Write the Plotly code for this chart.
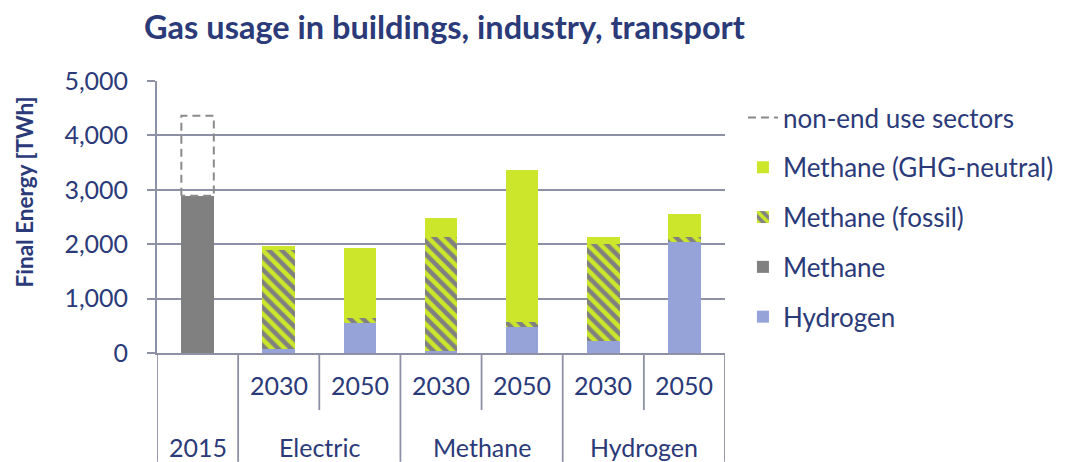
import plotly.graph_objects as go
import numpy as np

# ---- data ----
scenarios = ["", "Electric", "Electric", "Methane", "Methane", "Hydrogen", "Hydrogen"]
years = ["2015", "2030", "2050", "2030", "2050", "2030", "2050"]
hydrogen = [0, 68, 557, 37, 478, 220, 2046]
methane = [2890, 0, 0, 0, 0, 0, 0]
methane_fossil = [0, 1825, 86, 2101, 98, 1780, 81]
methane_ghg = [0, 74, 1287, 349, 2788, 140, 423]
non_end_use = [1470, 0, 0, 0, 0, 0, 0]
y_ticks = [0, 1000, 2000, 3000, 4000, 5000]

NAVY = "#2B3A78"
GRID = "#8E90A6"
GREEN = "#CBE62B"
GREY = "#808080"
BLUE = "#95A3D8"
FONT = "Lato"
BAR_W = 0.4
LBL = 25

pos = list(range(len(years)))

fig = go.Figure()
fig.add_bar(x=pos, y=hydrogen, name="Hydrogen", width=BAR_W,
            marker=dict(color=BLUE, line=dict(width=0)),
            legendgroup="h", legendrank=5)
fig.add_bar(x=pos, y=methane, name="Methane", width=BAR_W,
            marker=dict(color=GREY, line=dict(width=0)),
            legendgroup="m", legendrank=4)
fig.add_bar(x=pos, y=methane_fossil, name="Methane (fossil)", width=BAR_W,
            marker=dict(color=GREY, line=dict(width=0),
                        pattern=dict(shape="\\", fgcolor=GREEN, bgcolor=GREY,
                                     size=9, solidity=0.5, fillmode="replace")),
            legendgroup="f", legendrank=3)
fig.add_bar(x=pos, y=methane_ghg, name="Methane (GHG-neutral)", width=BAR_W,
            marker=dict(color=GREEN, line=dict(width=0)),
            legendgroup="g", legendrank=2)

# non-end use sectors: dashed outline stacked on top of the 2015 bar
base = np.array(hydrogen) + np.array(methane) + np.array(methane_fossil) + np.array(methane_ghg)
i = 0
x0, x1 = pos[i] - BAR_W / 2, pos[i] + BAR_W / 2
b, t = base[i], base[i] + non_end_use[i]
fig.add_scatter(x=[x0, x0, x1, x1, x0], y=[b, t, t, b, b], mode="lines",
                name="non-end use sectors",
                line=dict(color="#8A8A8A", width=2, dash="8px,5px"),
                legendgroup="n", legendrank=1, hoverinfo="skip")

# category axis: separators and labels
bottom_full = -0.40
bottom_part = -0.21
shapes = []
n = len(pos)
for k in range(n + 1):
    xb = k - 0.5
    if k == 0 or k == n:
        full = True
    else:
        full = scenarios[k - 1] != scenarios[k]
    shapes.append(dict(type="line", xref="x", yref="paper", x0=xb, x1=xb,
                       y0=0, y1=bottom_full if full else bottom_part,
                       line=dict(color=GRID, width=1.8)))
fig.update_layout(shapes=shapes)

annotations = []
for k in pos:
    yrow = -0.118 if scenarios[k] else -0.3456
    annotations.append(dict(x=k, y=yrow, xref="x", yref="paper", text=years[k],
                            showarrow=False, font=dict(size=LBL, color=NAVY, family=FONT),
                            yanchor="middle"))
groups = []
for k in pos:
    if scenarios[k] and scenarios[k] not in [g[0] for g in groups]:
        idx = [j for j in pos if scenarios[j] == scenarios[k]]
        groups.append((scenarios[k], float(np.mean(idx))))
for name, xc in groups:
    annotations.append(dict(x=xc, y=-0.3456, xref="x", yref="paper", text=name,
                            showarrow=False, font=dict(size=LBL, color=NAVY, family=FONT),
                            yanchor="middle"))
# y-axis title
annotations.append(dict(x=-0.2316, y=0.592, xref="paper", yref="paper",
                        text="<b>Final Energy [TWh]</b>", textangle=-90,
                        showarrow=False, xanchor="center", yanchor="middle",
                        font=dict(size=22.5, color=NAVY, family=FONT)))
fig.update_layout(annotations=annotations)

fig.update_layout(
    width=1063, height=454,
    margin=dict(l=149, r=344, t=73, b=109),
    paper_bgcolor="white", plot_bgcolor="white",
    barmode="stack", bargap=0.6,
    font=dict(family=FONT, color=NAVY),
    title=dict(text="<b>Gas usage in buildings, industry, transport</b>",
               x=0.4106, xanchor="center", y=0.956, yanchor="middle",
               font=dict(size=32.5, color=NAVY, family=FONT)),
    legend=dict(x=1.0316, xanchor="left", y=0.952, yanchor="top",
                font=dict(size=26, color=NAVY, family=FONT),
                traceorder="grouped", tracegroupgap=13,
                itemwidth=30, bgcolor="rgba(0,0,0,0)"),
    showlegend=True,
)
fig.update_xaxes(range=[-0.5, n - 0.5], showticklabels=False, showgrid=False,
                 zeroline=False, showline=True, linecolor=GRID, linewidth=1.8)
fig.update_yaxes(range=[0, 5000], tickvals=y_ticks, tickformat=",",
                 showgrid=True, gridcolor=GRID, gridwidth=1.5, zeroline=False,
                 showline=True, linecolor=GRID, linewidth=1.8,
                 ticks="outside", ticklen=8, tickcolor=GRID, tickwidth=1.5,
                 ticklabelstandoff=14,
                 tickfont=dict(size=LBL, color=NAVY, family=FONT))

fig.write_html("out.html")
